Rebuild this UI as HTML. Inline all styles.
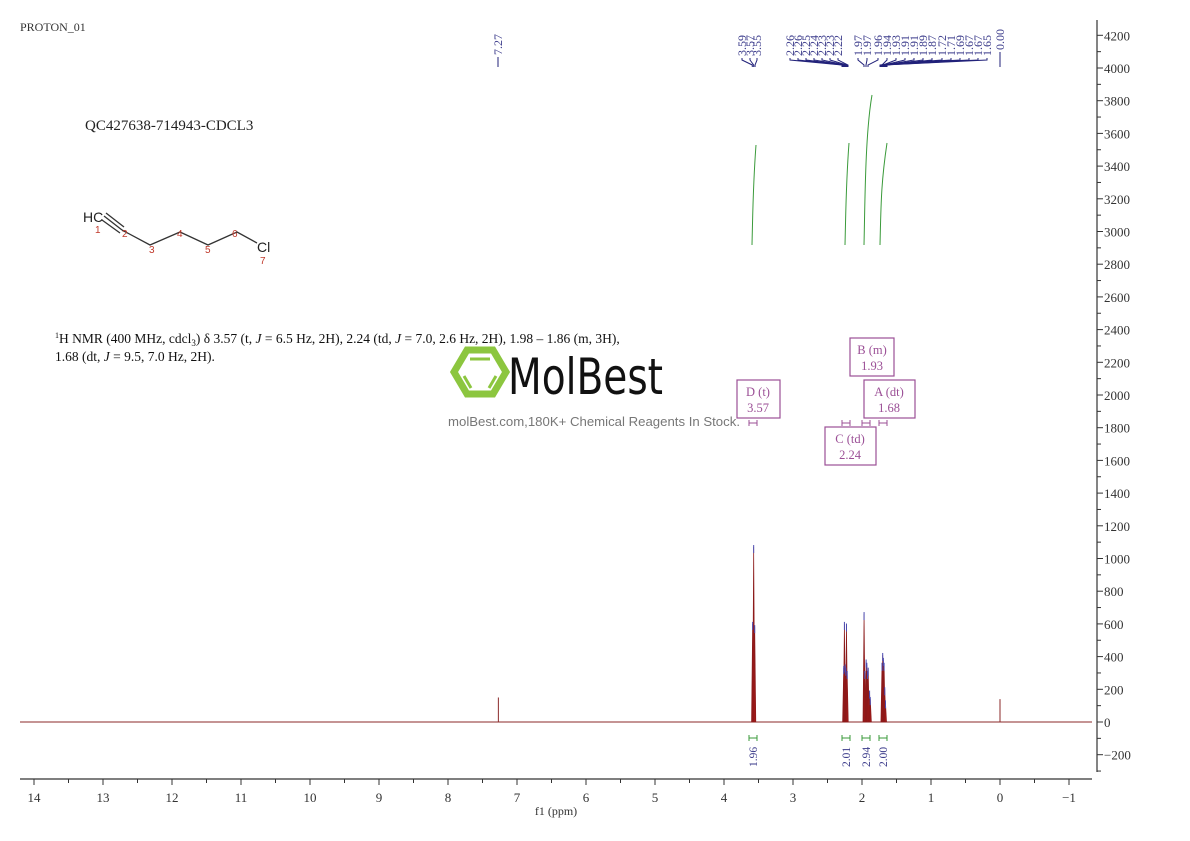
<!DOCTYPE html>
<html><head><meta charset="utf-8">
<style>
html,body{margin:0;padding:0;background:#fff;width:1190px;height:841px;overflow:hidden}
svg{display:block}
text{font-family:"Liberation Serif","Noto Serif CJK SC",serif}
</style></head><body>
<svg id="s" width="1190" height="841" viewBox="0 0 1190 841" xmlns="http://www.w3.org/2000/svg">
<text x="20" y="31" font-size="12" fill="#333">PROTON_01</text>
<text x="85" y="130" font-size="15" fill="#222">QC427638-714943-CDCL3</text>
<!-- molecule -->
<g stroke="#333" stroke-width="1.3" fill="none">
<line x1="104" y1="216" x2="122" y2="230"/><line x1="102" y1="220" x2="120" y2="233"/><line x1="106" y1="213" x2="124" y2="227"/>
<polyline points="122,230 150,245 180,232 208,245 237,232 257,243"/>
</g>
<text x="83" y="222" font-size="14" fill="#222" style="font-family:'Liberation Sans',sans-serif">HC</text>
<text x="257" y="252" font-size="14" fill="#222" style="font-family:'Liberation Sans',sans-serif">Cl</text>
<g font-size="10" fill="#c0392b" style="font-family:'Liberation Sans',sans-serif">
<text x="95" y="233" style="font-family:'Liberation Sans',sans-serif">1</text><text x="122" y="237" style="font-family:'Liberation Sans',sans-serif">2</text><text x="149" y="253" style="font-family:'Liberation Sans',sans-serif">3</text><text x="177" y="237" style="font-family:'Liberation Sans',sans-serif">4</text><text x="205" y="253" style="font-family:'Liberation Sans',sans-serif">5</text><text x="232" y="237" style="font-family:'Liberation Sans',sans-serif">6</text><text x="260" y="264" style="font-family:'Liberation Sans',sans-serif">7</text>
</g>
<text x="55" y="343" font-size="13.5" fill="#111"><tspan font-size="8" dy="-5">1</tspan><tspan dy="5">H NMR (400 MHz, cdcl</tspan><tspan font-size="9" dy="3">3</tspan><tspan dy="-3">) δ 3.57 (t, </tspan><tspan font-style="italic">J</tspan> = 6.5 Hz, 2H), 2.24 (td, <tspan font-style="italic">J</tspan> = 7.0, 2.6 Hz, 2H), 1.98 – 1.86 (m, 3H),</text>
<text x="55" y="361" font-size="13.5" fill="#111">1.68 (dt, <tspan font-style="italic">J</tspan> = 9.5, 7.0 Hz, 2H).</text>
<!-- watermark -->
<g stroke="#8cc63f" fill="none">
<polygon points="467,350 493,350 506,372 493,394 467,394 454,372" stroke-width="7"/>
<line x1="470" y1="359" x2="490" y2="359" stroke-width="3"/>
<line x1="464" y1="376" x2="471" y2="388" stroke-width="3"/>
<line x1="496" y1="376" x2="489" y2="388" stroke-width="3"/>
</g>
<text x="508" y="394" font-size="50" fill="#111" style="font-family:'DejaVu Sans Condensed','Liberation Sans Narrow',sans-serif" textLength="155" lengthAdjust="spacingAndGlyphs">MolBest</text>
<text x="448" y="426" font-size="13" fill="#777" style="font-family:'Liberation Sans',sans-serif" textLength="292" lengthAdjust="spacingAndGlyphs">molBest.com,180K+ Chemical Reagents In Stock.</text>
<!-- boxes -->
<g fill="#fff" stroke="#9b4f96" stroke-width="1.2">
<rect x="737" y="380" width="43" height="38"/><rect x="850" y="338" width="44" height="38"/><rect x="864" y="380" width="51" height="38"/><rect x="825" y="427" width="51" height="38"/>
</g>
<g font-size="12.5" fill="#9b4f96" text-anchor="middle">
<text x="758" y="396">D (t)</text><text x="758" y="412">3.57</text>
<text x="872" y="354">B (m)</text><text x="872" y="370">1.93</text>
<text x="889" y="396">A (dt)</text><text x="889" y="412">1.68</text>
<text x="850" y="443">C (td)</text><text x="850" y="459">2.24</text>
</g>
<g id="g"></g>
</svg>
<script>
const NS="http://www.w3.org/2000/svg",g=document.getElementById('g');
function el(t,a,txt){const e=document.createElementNS(NS,t);for(const k in a)e.setAttribute(k,a[k]);if(txt!=null)e.textContent=txt;g.appendChild(e);return e;}
const X=p=>1000-69*p, Y=v=>722-0.1635*v;
el('line',{x1:1097,y1:20,x2:1097,y2:772,stroke:'#333','stroke-width':1.2});
for(let v=-300;v<=4200;v+=100){const y=Y(v);el('line',{x1:1097,y1:y,x2:v%200==0?1103:1101,y2:y,stroke:'#333'});
 if(v%200==0)el('text',{x:1104,y:y+5,'font-size':13,fill:'#333'},v<0?'−'+(-v):''+v);}
el('line',{x1:20,y1:779,x2:1092,y2:779,stroke:'#333','stroke-width':1.2});
for(let p=14;p>=-1.25;p-=0.5){const x=X(p);const maj=Math.abs(p-Math.round(p))<0.01;
 el('line',{x1:x,y1:779,x2:x,y2:maj?785:783,stroke:'#333'});
 if(maj)el('text',{x:x,y:802,'font-size':13,fill:'#333','text-anchor':'middle'},p<0?'−'+(-p):''+p);}
el('text',{x:556,y:815,'font-size':12,fill:'#333','text-anchor':'middle'},'f1 (ppm)');
el('line',{x1:20,y1:722,x2:1092,y2:722,stroke:'#8b2a2a','stroke-width':1});
el('line',{x1:X(7.27),y1:722,x2:X(7.27),y2:Y(150),stroke:'#8b2a2a','stroke-width':1});
el('line',{x1:X(0),y1:722,x2:X(0),y2:Y(140),stroke:'#8b2a2a','stroke-width':1});
const peaks=[[3.585,600],[3.57,1070],[3.555,580],
[2.265,330],[2.255,600],[2.245,340],[2.235,320],[2.225,590],[2.215,300],
[1.97,660],[1.96,300],[1.94,370],[1.93,350],[1.92,300],[1.91,320],[1.89,180],[1.88,140],
[1.71,350],[1.70,410],[1.69,380],[1.68,350],[1.67,200],[1.66,120]];
for(const [p,h] of peaks){const x=X(p);el('path',{d:`M${x-1.1},722 L${x},${Y(h)} L${x+1.1},722 Z`,fill:'#a01818',stroke:'#8b1a1a','stroke-width':0.7});}
for(const [p,h] of peaks){const x=X(p);el('line',{x1:x,y1:Y(h)-2,x2:x,y2:Y(h)+6,stroke:'#4a4ab0','stroke-width':1});}
const ints=[[752,756,245,145],[845,849,245,143],[864,872,245,95],[880,887,245,143]];
for(const [a,b,y1,y2] of ints)el('path',{d:`M${a},${y1} C${a+1},${y1-40} ${a+1},${y2+40} ${b},${y2}`,fill:'none',stroke:'#3a9a3a','stroke-width':1});
const im=[[753,'1.96'],[846,'2.01'],[866,'2.94'],[883,'2.00']];
for(const [x,t] of im){el('line',{x1:x-4,y1:738,x2:x+4,y2:738,stroke:'#3a9a3a'});el('line',{x1:x-4,y1:735,x2:x-4,y2:741,stroke:'#3a9a3a'});el('line',{x1:x+4,y1:735,x2:x+4,y2:741,stroke:'#3a9a3a'});
 el('text',{x:0,y:0,'font-size':11.5,fill:'#3a3a8a',transform:`translate(${x+4},767) rotate(-90)`},t);}
for(const x of [753,846,866,883]){el('line',{x1:x-4,y1:423,x2:x+4,y2:423,stroke:'#9b4f96'});el('line',{x1:x-4,y1:420,x2:x-4,y2:426,stroke:'#9b4f96'});el('line',{x1:x+4,y1:420,x2:x+4,y2:426,stroke:'#9b4f96'});}
const L=[[742,'3.59',X(3.59)],[750,'3.57',X(3.57)],[757,'3.55',X(3.55)],
[790,'2.26',842],[798,'2.26',843],[806,'2.25',844],[814,'2.24',845],[822,'2.23',846],[830,'2.23',847],[838,'2.22',848],
[858,'1.97',864],[867,'1.97',866],[878,'1.96',868],[887,'1.94',882],[896,'1.93',883],[905,'1.91',884],[914,'1.91',885],[923,'1.89',886],[932,'1.87',887],[942,'1.72',880],[951,'1.71',881],[960,'1.69',882],[969,'1.67',883],[978,'1.67',884],[987,'1.65',885]];
for(const [x,t,px] of L){el('text',{x:0,y:0,'font-size':12,fill:'#3a3a8a',transform:`translate(${x+4},56) rotate(-90)`},t);
 el('polyline',{points:`${x},58 ${x},60 ${px},65 ${px},67`,fill:'none',stroke:'#22227a','stroke-width':1});}
el('text',{x:0,y:0,'font-size':12,fill:'#3a3a8a',transform:'translate(1004,50) rotate(-90)'},'0.00');
el('line',{x1:1000,y1:52,x2:1000,y2:67,stroke:'#22227a'});
el('text',{x:0,y:0,'font-size':12,fill:'#3a3a8a',transform:'translate(502,55) rotate(-90)'},'7.27');
el('line',{x1:498,y1:57,x2:498,y2:67,stroke:'#22227a'});
</script>
</body></html>
